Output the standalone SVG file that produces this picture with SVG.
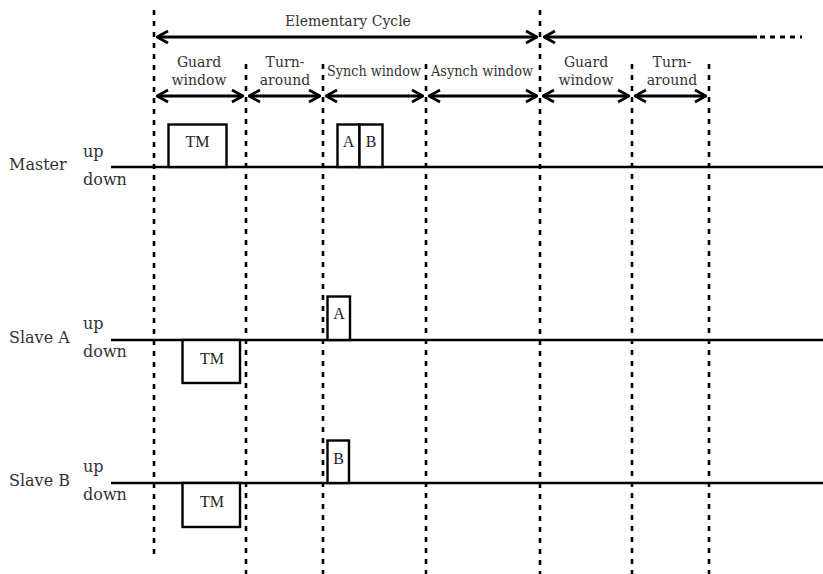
<svg xmlns="http://www.w3.org/2000/svg" width="823" height="574" viewBox="0 0 823 574">
  <style>
    .grid { stroke: #000; stroke-width: 2.6; stroke-dasharray: 5 6; fill: none; }
    .sig { stroke: #000; stroke-width: 2.4; fill: none; }
    .box { stroke: #000; stroke-width: 2.4; fill: #fff; }
    .arr { stroke: #000; stroke-width: 2.8; fill: none; }
    .lbl { font-family: "DejaVu Serif", "Liberation Serif", serif; fill: #333; }
    .win { font-size: 14px; text-anchor: middle; }
    .row { font-size: 16px; }
    .lvl { font-size: 16px; }
    .pkt { font-size: 16px; text-anchor: middle; fill: #222; }
  </style>
  <defs>
    <marker id="head" viewBox="0 0 14 16" refX="13" refY="8" markerWidth="14" markerHeight="16" markerUnits="userSpaceOnUse" orient="auto-start-reverse">
      <path d="M2,2 L13,8 L2,14" stroke="#000" stroke-width="2.8" fill="none"/>
    </marker>
  </defs>
  <rect width="823" height="574" fill="#fff"/>

  <!-- time grid -->
  <g id="grid">
    <line class="grid" x1="154" y1="10" x2="154" y2="556"/>
    <line class="grid" x1="246" y1="64" x2="246" y2="574"/>
    <line class="grid" x1="323" y1="64" x2="323" y2="574"/>
    <line class="grid" x1="426" y1="64" x2="426" y2="574"/>
    <line class="grid" x1="540" y1="10" x2="540" y2="574"/>
    <line class="grid" x1="632" y1="64" x2="632" y2="574"/>
    <line class="grid" x1="709" y1="64" x2="709" y2="574"/>
  </g>

  <!-- window spans -->
  <g id="connectors">
    <line class="arr" x1="157" y1="37" x2="537" y2="37" marker-start="url(#head)" marker-end="url(#head)"/>
    <line class="arr" x1="544" y1="37" x2="757" y2="37" marker-start="url(#head)"/>
    <line class="arr" x1="760" y1="37" x2="802" y2="37" stroke-dasharray="5 5"/>
    <line class="arr" x1="157" y1="96" x2="243" y2="96" marker-start="url(#head)" marker-end="url(#head)"/>
    <line class="arr" x1="249" y1="96" x2="320" y2="96" marker-start="url(#head)" marker-end="url(#head)"/>
    <line class="arr" x1="326" y1="96" x2="423" y2="96" marker-start="url(#head)" marker-end="url(#head)"/>
    <line class="arr" x1="429" y1="96" x2="537" y2="96" marker-start="url(#head)" marker-end="url(#head)"/>
    <line class="arr" x1="543" y1="96" x2="629" y2="96" marker-start="url(#head)" marker-end="url(#head)"/>
    <line class="arr" x1="635" y1="96" x2="706" y2="96" marker-start="url(#head)" marker-end="url(#head)"/>
  </g>

  <g id="labels" class="lbl">
    <text class="win" x="348" y="26">Elementary Cycle</text>
    <text class="win" x="199" y="67">Guard</text>
    <text class="win" x="199" y="85">window</text>
    <text class="win" x="285" y="67">Turn-</text>
    <text class="win" x="285" y="85">around</text>
    <text class="win" x="374" y="76" textLength="94" lengthAdjust="spacingAndGlyphs">Synch window</text>
    <text class="win" x="482" y="76" textLength="102" lengthAdjust="spacingAndGlyphs">Asynch window</text>
    <text class="win" x="586" y="67">Guard</text>
    <text class="win" x="586" y="85">window</text>
    <text class="win" x="672" y="67">Turn-</text>
    <text class="win" x="672" y="85">around</text>
  </g>

  <!-- Master -->
  <g id="master">
    <text class="lbl row" x="9" y="170">Master</text>
    <text class="lbl lvl" x="83" y="157">up</text>
    <text class="lbl lvl" x="83" y="185">down</text>
    <line class="sig" x1="111" y1="167" x2="823" y2="167"/>
    <rect class="box" x="168.5" y="124.5" width="58" height="42.5"/>
    <text class="pkt" x="197.5" y="147">TM</text>
    <rect class="box" x="337.5" y="124.5" width="22" height="42.5"/>
    <text class="pkt" x="348.5" y="147">A</text>
    <rect class="box" x="359.5" y="124.5" width="23" height="42.5"/>
    <text class="pkt" x="371" y="147">B</text>
  </g>

  <!-- Slave A -->
  <g id="slave-a">
    <text class="lbl row" x="9" y="343">Slave A</text>
    <text class="lbl lvl" x="83" y="329">up</text>
    <text class="lbl lvl" x="83" y="357">down</text>
    <line class="sig" x1="111" y1="340" x2="823" y2="340"/>
    <rect class="box" x="182.5" y="340" width="57.5" height="43"/>
    <text class="pkt" x="212" y="364">TM</text>
    <rect class="box" x="327.5" y="296.5" width="22.5" height="43.5"/>
    <text class="pkt" x="339" y="319">A</text>
  </g>

  <!-- Slave B -->
  <g id="slave-b">
    <text class="lbl row" x="9" y="486">Slave B</text>
    <text class="lbl lvl" x="83" y="472">up</text>
    <text class="lbl lvl" x="83" y="500">down</text>
    <line class="sig" x1="111" y1="483" x2="823" y2="483"/>
    <rect class="box" x="182.5" y="483" width="57.5" height="44"/>
    <text class="pkt" x="212" y="507">TM</text>
    <rect class="box" x="327.5" y="440.5" width="21.5" height="42.5"/>
    <text class="pkt" x="338.5" y="464">B</text>
  </g>
</svg>
